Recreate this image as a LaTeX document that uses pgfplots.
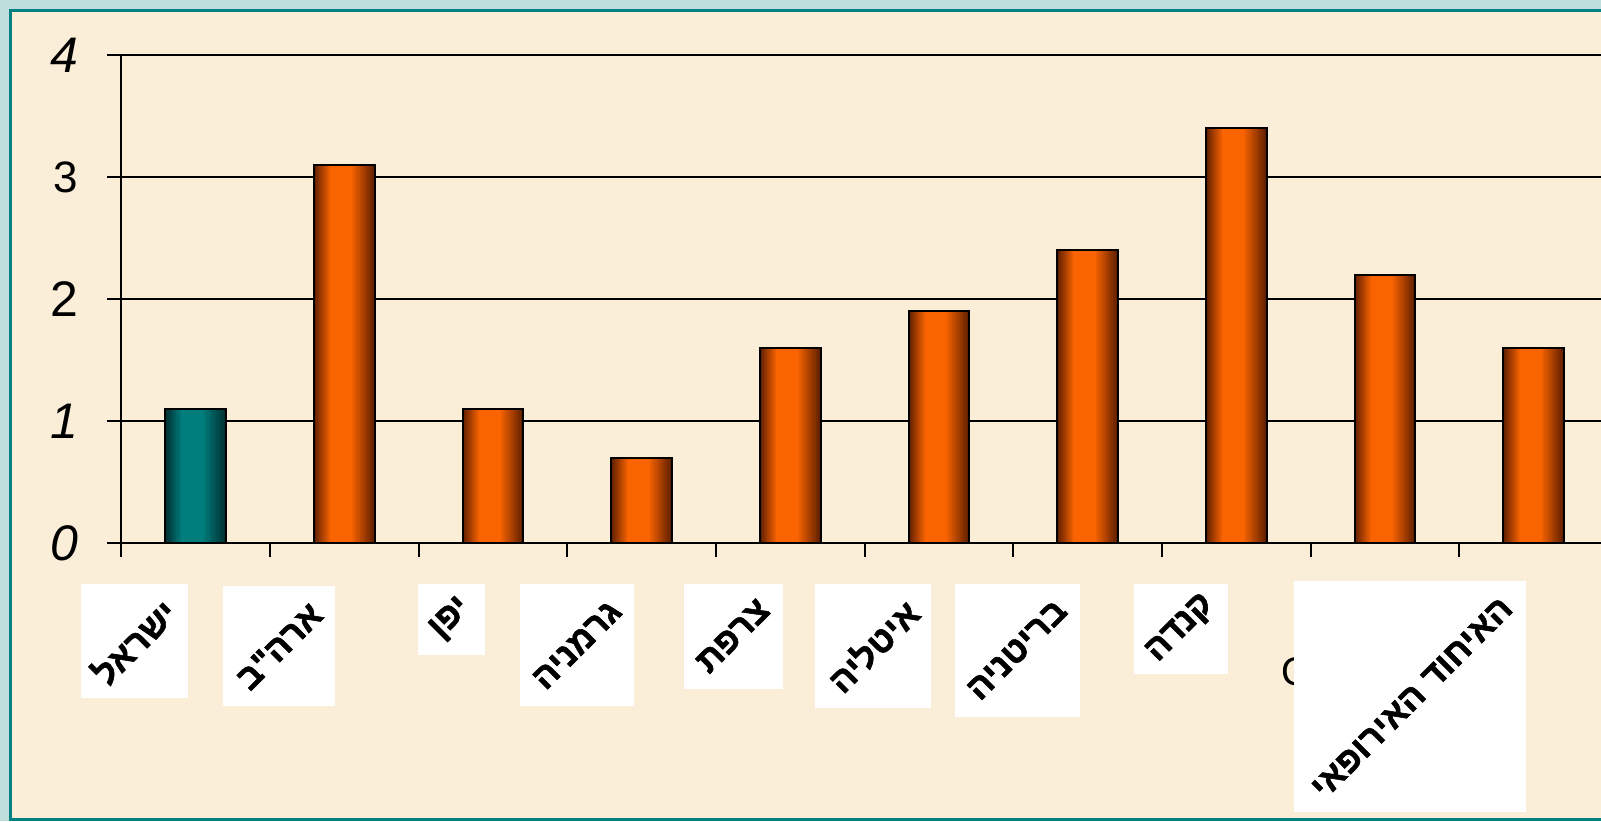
\documentclass[border=0pt]{standalone}
\usepackage{pgfplots}
\usepackage{pgfplotstable}
\pgfplotsset{compat=1.18}
\usepackage{fontspec}
\setmainfont{Liberation Sans}
\newfontfamily\hebfont[Script=Hebrew,FakeBold=1.6]{Liberation Sans Bold}
\TeXXeTstate=1
\definecolor{bgbeige}{RGB}{251,238,216}
\definecolor{outerblue}{RGB}{190,222,222}
\definecolor{frameteal}{RGB}{0,128,128}
\definecolor{orL}{RGB}{100,33,0}
\definecolor{orM}{RGB}{255,102,0}
\definecolor{tlL}{RGB}{0,50,50}
\definecolor{tlM}{RGB}{0,128,128}
\pgfplotstableread{
x y
0.5 1.1
}\tldata
\pgfplotstableread{
x y
1.5 3.1
2.5 1.1
3.5 0.7
4.5 1.6
5.5 1.9
6.5 2.4
7.5 3.4
8.5 2.2
9.5 1.6
}\ordata
% layer: #1 data, #2 dark colour, #3 bright colour, #4 percent of bright, #5 bar width, #6 shift
\newcommand{\barlayer}[6]{%
  \addplot[draw=none, fill=#3!#4!#2, bar width=#5, bar shift=#6] table[x=x,y=y]{#1};}
\newcommand{\shadedbars}[3]{%
  \barlayer{#1}{#2}{#3}{0}{30.35pt}{0pt}
  \barlayer{#1}{#2}{#3}{11}{28.23pt}{-0.17pt}
  \barlayer{#1}{#2}{#3}{22}{26.10pt}{-0.34pt}
  \barlayer{#1}{#2}{#3}{32}{23.98pt}{-0.50pt}
  \barlayer{#1}{#2}{#3}{43}{21.85pt}{-0.67pt}
  \barlayer{#1}{#2}{#3}{54}{19.73pt}{-0.84pt}
  \barlayer{#1}{#2}{#3}{65}{17.60pt}{-1.01pt}
  \barlayer{#1}{#2}{#3}{75}{15.48pt}{-1.18pt}
  \barlayer{#1}{#2}{#3}{86}{13.35pt}{-1.34pt}
  \barlayer{#1}{#2}{#3}{97}{11.23pt}{-1.51pt}
  \addplot[draw=black, line width=1pt, fill=none, bar width=30.35pt, bar shift=0pt] table[x=x,y=y]{#1};}
\begin{document}
\begin{tikzpicture}
\clip (0,0) rectangle (800.5pt,410.5pt);
\begin{scope}[x=0.5pt,y=-0.5pt,shift={(0,410.5pt)}]
  \fill[outerblue] (0,0) rectangle (1601,821);
  \fill[bgbeige] (10,10) rectangle (1650,820);
  \draw[frameteal,line width=1.5pt] (10.5,10.5) rectangle (1650,819.5);
\end{scope}
\begin{axis}[
  at={(60.7pt,138.85pt)}, anchor=south west,
  scale only axis, width=743.3pt, height=244.15pt,
  xmin=0, xmax=10, ymin=0, ymax=4,
  xtick={0,1,...,10}, xticklabels={},
  ytick={0,1,2,3,4},
  yticklabels={\textit{0},\textit{1},2,{\fontsize{22}{22}\selectfont 3},\textit{4}},
  yticklabel style={font=\fontsize{25}{25}\selectfont, xshift=-11pt},
  tick pos=left, tick align=outside, major tick length=7pt,
  ymajorgrids, grid style={black, line width=0.75pt},
  axis line style={black, line width=1pt},
  tick style={black, line width=1pt},
  ybar, bar width=30.35pt, bar shift=0pt,
]
\shadedbars{\tldata}{tlL}{tlM}
\shadedbars{\ordata}{orL}{orM}
\end{axis}
\begin{scope}[x=0.5pt,y=-0.5pt,shift={(0,410.5pt)}]
  \node[font=\fontsize{20}{20}\selectfont, inner sep=0pt] at (1297,672) {O};
  \fill[white] (81,584) rectangle (188,698);
  \fill[white] (223,586) rectangle (335,706);
  \fill[white] (418,584) rectangle (485,655);
  \fill[white] (520,584) rectangle (634,706);
  \fill[white] (684,584) rectangle (783,689);
  \fill[white] (815,584) rectangle (931,708);
  \fill[white] (955,584) rectangle (1080,717);
  \fill[white] (1134,584) rectangle (1228,674);
  \fill[white] (1294,581) rectangle (1526,812);
  \tikzset{hl/.style={rotate=45, inner sep=0pt, font=\hebfont\fontsize{17.5}{17.5}\selectfont}}
  \node[hl] at (134,642) {\beginR ישראל\endR};
  \node[hl] at (279,646) {\beginR ארה"ב\endR};
  \node[hl] at (451,619) {\beginR יפן\endR};
  \node[hl] at (577,645) {\beginR גרמניה\endR};
  \node[hl] at (733,636) {\beginR צרפת\endR};
  \node[hl] at (873,646) {\beginR איטליה\endR};
  \node[hl] at (1017,650) {\beginR בריטניה\endR};
  \node[hl] at (1181,629) {\beginR קנדה\endR};
  \node[hl] at (1412,698) {\beginR האיחוד האירופאי\endR};
\end{scope}
\end{tikzpicture}
\end{document}
